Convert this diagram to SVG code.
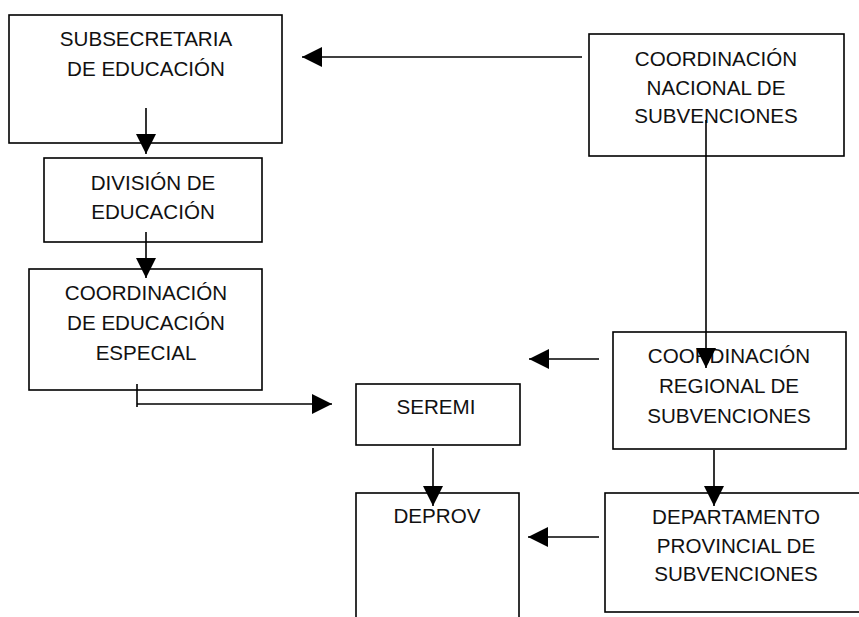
<svg xmlns="http://www.w3.org/2000/svg" width="859" height="617" viewBox="0 0 859 617">
<style>
.box{fill:#fff;stroke:#000;stroke-width:1.6}
.t{font-family:"Liberation Sans",Arial,sans-serif;font-size:20.6px;fill:#111;text-anchor:middle}
.c{fill:none;stroke:#000;stroke-width:1.6}
</style>
<defs>
<marker id="ah" markerUnits="userSpaceOnUse" markerWidth="20" markerHeight="20" refX="20" refY="10" orient="auto" viewBox="0 0 20 20">
<path d="M0,0 L20,10 L0,20 z" fill="#000"/>
</marker>
</defs>
<rect width="859" height="617" fill="#fff"/>
<g id="n-subsecretaria">
<rect class="box" x="9" y="15" width="273" height="128"/>
<text class="t" x="146" y="46">SUBSECRETARIA</text>
<text class="t" x="146" y="76">DE EDUCACIÓN</text>
</g>
<g id="n-division">
<rect class="box" x="44" y="158" width="218" height="84"/>
<text class="t" x="153" y="190">DIVISIÓN DE</text>
<text class="t" x="153" y="219">EDUCACIÓN</text>
</g>
<g id="n-coord-especial">
<rect class="box" x="29" y="269" width="233" height="121"/>
<text class="t" x="146" y="300">COORDINACIÓN</text>
<text class="t" x="146" y="330">DE EDUCACIÓN</text>
<text class="t" x="146" y="360">ESPECIAL</text>
</g>
<g id="n-nacional">
<rect class="box" x="589" y="34" width="255" height="122"/>
<text class="t" x="716" y="66">COORDINACIÓN</text>
<text class="t" x="716" y="95">NACIONAL DE</text>
<text class="t" x="716" y="123">SUBVENCIONES</text>
</g>
<g id="n-regional">
<rect class="box" x="613" y="332" width="233" height="117"/>
<text class="t" x="729" y="363">COORDINACIÓN</text>
<text class="t" x="729" y="393">REGIONAL DE</text>
<text class="t" x="729" y="423">SUBVENCIONES</text>
</g>
<g id="n-seremi">
<rect class="box" x="356" y="384" width="164" height="61"/>
<text class="t" x="436" y="414">SEREMI</text>
</g>
<g id="n-deprov">
<rect class="box" x="356" y="493" width="163" height="150"/>
<text class="t" x="437" y="523">DEPROV</text>
</g>
<g id="n-departamento">
<rect class="box" x="605" y="493" width="262" height="119"/>
<text class="t" x="736" y="524">DEPARTAMENTO</text>
<text class="t" x="736" y="553">PROVINCIAL DE</text>
<text class="t" x="736" y="581">SUBVENCIONES</text>
</g>
<g id="connectors">
<line class="c" x1="582" y1="57" x2="302" y2="57" marker-end="url(#ah)"/>
<line class="c" x1="146" y1="108" x2="146" y2="154" marker-end="url(#ah)"/>
<line class="c" x1="146" y1="232" x2="146" y2="278" marker-end="url(#ah)"/>
<line class="c" x1="137" y1="384" x2="137" y2="407"/>
<line class="c" x1="137" y1="404" x2="332" y2="404" marker-end="url(#ah)"/>
<line class="c" x1="706" y1="120" x2="706" y2="368" marker-end="url(#ah)"/>
<line class="c" x1="599" y1="359" x2="529" y2="359" marker-end="url(#ah)"/>
<line class="c" x1="433" y1="448" x2="433" y2="506" marker-end="url(#ah)"/>
<line class="c" x1="714" y1="450" x2="714" y2="506" marker-end="url(#ah)"/>
<line class="c" x1="599" y1="537" x2="528" y2="537" marker-end="url(#ah)"/>
</g>
</svg>
